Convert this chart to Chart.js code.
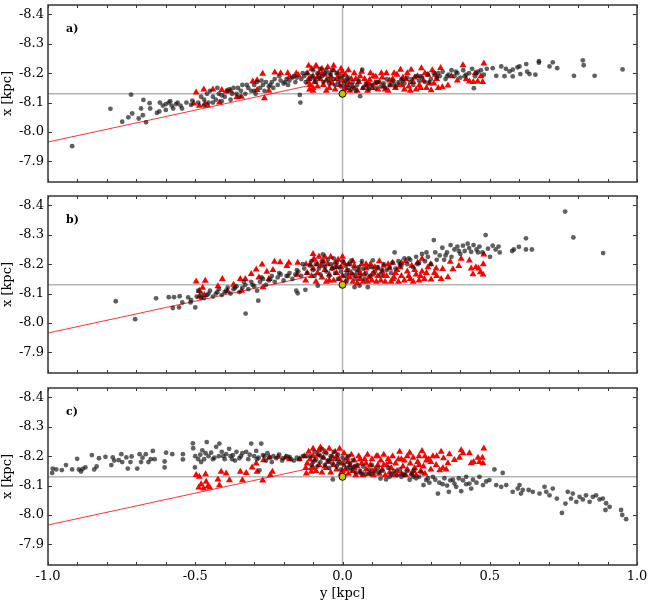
<!DOCTYPE html>
<html lang="en">
<head>
<meta charset="UTF-8">
<title>x vs y [kpc]</title>
<script src="https://cdn.jsdelivr.net/npm/chart.js"></script>
<style>
  body { margin: 0; background: #fff; }
  #wrap { position: relative; width: 648px; height: 605px; }
  canvas { position: absolute; left: 0; }
</style>
</head>
<body>
<div id="wrap">
  <canvas id="panelA" width="648" height="190" style="top:0"></canvas>
  <canvas id="panelB" width="648" height="190" style="top:190px"></canvas>
  <canvas id="panelC" width="648" height="225" style="top:380px"></canvas>
</div>
<script>
// axis settings
const xTicks = [-1.0, -0.5, 0.0, 0.5, 1.0];
const xMinor = [-1.0, -0.9, -0.8, -0.7, -0.6, -0.5, -0.4, -0.3, -0.2, -0.1, 0.0, 0.1, 0.2, 0.3, 0.4, 0.5, 0.6, 0.7, 0.8, 0.9, 1.0];
const yTicks = [-8.4, -8.3, -8.2, -8.1, -8.0, -7.9];
const yRange = [-8.432, -7.83];

// sun position and the red direction line
const sunPos = [0.0, -8.13];
const fitLine = [[-1.0, -7.966], [-0.1, -8.161]];

// panel a
const aBlack = [
  [-0.918,-7.952],[-0.788,-8.079],[-0.748,-8.035],[-0.718,-8.127],[-0.714,-8.063],[-0.727,-8.05],[-0.692,-8.046],
  [-0.684,-8.080],[-0.676,-8.109],[-0.678,-8.057],[-0.667,-8.033],[-0.655,-8.098],[-0.653,-8.08],
  [-0.63,-8.065],[-0.622,-8.07],[-0.62,-8.10],[-0.61,-8.09],[-0.60,-8.095],[-0.60,-8.075],[-0.59,-8.10],[-0.585,-8.105],
  [-0.58,-8.09],[-0.575,-8.08],[-0.565,-8.095],[-0.56,-8.10],[-0.55,-8.09],[-0.545,-8.08],[-0.53,-8.10],[-0.514,-8.092],[-0.51,-8.107],
  [-0.49,-8.10],[-0.48,-8.12],[-0.47,-8.11],[-0.46,-8.13],[-0.455,-8.10],[-0.45,-8.14],[-0.44,-8.12],[-0.43,-8.11],[-0.425,-8.15],
  [-0.42,-8.13],[-0.41,-8.105],[-0.40,-8.12],[-0.39,-8.14],[-0.38,-8.11],[-0.375,-8.13],[-0.37,-8.15],[-0.36,-8.13],[-0.35,-8.12],
  [-0.345,-8.14],[-0.34,-8.16],[-0.33,-8.13],[-0.32,-8.15],[-0.31,-8.14],[-0.30,-8.16],[-0.295,-8.13],[-0.29,-8.17],[-0.28,-8.15],
  [-0.27,-8.16],[-0.265,-8.14],[-0.26,-8.17],[-0.25,-8.155],[-0.24,-8.17],[-0.235,-8.15],[-0.23,-8.18],[-0.22,-8.16],[-0.21,-8.175],
  [-0.20,-8.165],[-0.19,-8.18],[-0.185,-8.16],[-0.18,-8.175],[-0.17,-8.185],[-0.16,-8.17],[-0.155,-8.185],[-0.145,-8.126],[-0.143,-8.10],
  [-0.14,-8.18],[-0.13,-8.19],[-0.125,-8.17],[-0.12,-8.20],[-0.11,-8.18],[-0.105,-8.19],[-0.10,-8.21],[-0.09,-8.17],[-0.085,-8.20],
  [-0.08,-8.185],[-0.075,-8.215],[-0.07,-8.19],[-0.065,-8.17],[-0.06,-8.20],[-0.055,-8.21],[-0.05,-8.18],[-0.045,-8.165],[-0.04,-8.195],
  [-0.035,-8.21],[-0.03,-8.18],[-0.025,-8.16],[-0.02,-8.20],[-0.015,-8.17],[-0.01,-8.185],[-0.005,-8.155],[0.0,-8.19],[0.005,-8.165],
  [0.01,-8.175],[0.015,-8.15],[0.02,-8.185],[0.025,-8.16],[0.03,-8.145],[0.035,-8.17],[0.04,-8.15],[0.045,-8.14],
  [0.05,-8.16],[0.06,-8.122],[0.067,-8.212],[0.07,-8.15],[0.08,-8.165],[0.09,-8.145],[0.10,-8.16],[0.11,-8.15],[0.12,-8.17],
  [0.13,-8.155],[0.14,-8.165],[0.15,-8.18],[0.16,-8.16],[0.17,-8.175],[0.18,-8.155],[0.19,-8.17],[0.20,-8.18],[0.21,-8.165],
  [0.22,-8.185],[0.23,-8.17],[0.24,-8.16],[0.25,-8.19],[0.26,-8.175],[0.27,-8.185],[0.28,-8.17],[0.29,-8.195],[0.30,-8.18],
  [0.31,-8.20],[0.32,-8.185],[0.33,-8.19],[0.34,-8.205],[0.35,-8.18],[0.36,-8.195],[0.37,-8.21],[0.38,-8.19],[0.39,-8.20],
  [0.40,-8.185],[0.41,-8.21],[0.42,-8.195],[0.43,-8.20],[0.44,-8.215],[0.446,-8.149],[0.45,-8.19],[0.46,-8.205],[0.47,-8.21],
  [0.48,-8.195],[0.49,-8.215],[0.51,-8.217],[0.522,-8.191],[0.539,-8.223],[0.55,-8.19],[0.555,-8.215],[0.567,-8.206],[0.578,-8.189],
  [0.578,-8.212],[0.594,-8.22],[0.601,-8.223],[0.604,-8.197],[0.624,-8.231],[0.627,-8.205],[0.635,-8.197],[0.655,-8.195],
  [0.667,-8.241],[0.667,-8.236],[0.703,-8.223],[0.714,-8.237],[0.729,-8.217],[0.786,-8.191],[0.816,-8.244],[0.819,-8.227],
  [0.856,-8.191],[0.951,-8.213],
  [-0.47,-8.09],[-0.44,-8.1],[-0.41,-8.125],[-0.385,-8.145],[-0.355,-8.15],[-0.325,-8.16],[-0.3,-8.14],[-0.275,-8.175],
  [-0.245,-8.16],[-0.215,-8.19],[-0.195,-8.17],[-0.165,-8.19],[-0.135,-8.2],[-0.095,-8.18],[-0.045,-8.2],[0.015,-8.18],
  [0.055,-8.175],[0.085,-8.155],[0.115,-8.17],[0.145,-8.15],[0.175,-8.165],[0.205,-8.175],[0.235,-8.18],[0.265,-8.19],
  [0.295,-8.17],[0.325,-8.2],[0.355,-8.19],[0.385,-8.205],[0.415,-8.19],[0.455,-8.2]
];
const aRed = [
  [-0.497,-8.134],[-0.505,-8.097],[-0.486,-8.089],[-0.467,-8.097],[-0.458,-8.09],[-0.471,-8.145],[-0.44,-8.145],[-0.41,-8.143],
  [-0.418,-8.10],[-0.395,-8.138],[-0.38,-8.14],[-0.359,-8.118],[-0.343,-8.12],[-0.305,-8.172],[-0.29,-8.143],[-0.29,-8.176],
  [-0.271,-8.198],[-0.265,-8.115],[-0.25,-8.14],[-0.23,-8.202],[-0.21,-8.20],[-0.186,-8.20],[-0.18,-8.188],[-0.157,-8.199],
  [-0.15,-8.193],[-0.112,-8.145],[-0.10,-8.14],[-0.116,-8.168],[-0.089,-8.223],
  [-0.12,-8.20],[-0.115,-8.18],[-0.11,-8.16],[-0.105,-8.215],[-0.10,-8.19],[-0.095,-8.17],[-0.09,-8.225],[-0.085,-8.155],
  [-0.08,-8.20],[-0.075,-8.18],[-0.07,-8.215],[-0.065,-8.16],[-0.06,-8.195],[-0.055,-8.175],[-0.05,-8.22],[-0.045,-8.15],
  [-0.04,-8.19],[-0.035,-8.165],[-0.03,-8.21],[-0.025,-8.145],[-0.02,-8.18],[-0.015,-8.2],[-0.01,-8.16],[-0.005,-8.215],
  [0.0,-8.175],[0.005,-8.145],[0.01,-8.195],[0.015,-8.16],[0.02,-8.21],[0.025,-8.14],[0.03,-8.18],
  [0.035,-8.155],[0.04,-8.2],[0.05,-8.14],[0.055,-8.17],[0.06,-8.19],[0.07,-8.15],[0.075,-8.18],[0.085,-8.14],[0.09,-8.165],
  [0.092,-8.178],[0.10,-8.15],[0.105,-8.19],[0.113,-8.188],[0.12,-8.145],[0.125,-8.17],[0.132,-8.20],[0.14,-8.155],[0.149,-8.20],
  [0.155,-8.14],[0.163,-8.159],[0.17,-8.18],[0.18,-8.15],[0.185,-8.195],[0.197,-8.212],[0.2,-8.16],[0.21,-8.145],[0.215,-8.18],
  [0.225,-8.155],[0.233,-8.212],[0.24,-8.17],[0.25,-8.145],[0.255,-8.19],[0.261,-8.159],[0.268,-8.217],[0.275,-8.175],
  [0.285,-8.15],[0.29,-8.195],[0.301,-8.142],[0.305,-8.21],[0.31,-8.165],[0.32,-8.18],[0.333,-8.218],[0.339,-8.152],
  [0.358,-8.158],[0.37,-8.19],[0.39,-8.175],[0.409,-8.227],[0.42,-8.18],[0.431,-8.172],[0.444,-8.17],[0.459,-8.172],
  [0.476,-8.17],[0.48,-8.233],[0.47,-8.19],[0.45,-8.2],
  [-0.115,-8.225],[-0.1,-8.15],[-0.085,-8.185],[-0.07,-8.2],[-0.055,-8.14],[-0.04,-8.175],[-0.03,-8.225],[-0.015,-8.185],
  [0.0,-8.205],[0.01,-8.15],[0.02,-8.17],[0.045,-8.18],[0.065,-8.205],[0.08,-8.16],[0.095,-8.2],[0.11,-8.165],[0.135,-8.185],
  [0.145,-8.145],[0.16,-8.175],[0.175,-8.2],[0.19,-8.16],[0.205,-8.185],[0.22,-8.2],[0.23,-8.14],[0.245,-8.185],[0.265,-8.15],
  [0.28,-8.2],[0.295,-8.165],[0.315,-8.195],[0.325,-8.15]
];

// panel b
const bBlack = [
  [-0.770,-8.074],[-0.704,-8.013],[-0.633,-8.084],[-0.590,-8.088],[-0.576,-8.051],[-0.572,-8.088],[-0.553,-8.091],[-0.555,-8.053],
  [-0.544,-8.070],[-0.524,-8.087],[-0.516,-8.07],[-0.514,-8.078],[-0.50,-8.053],
  [-0.495,-8.09],[-0.49,-8.11],[-0.48,-8.10],[-0.47,-8.085],[-0.46,-8.095],[-0.45,-8.11],[-0.44,-8.09],[-0.43,-8.10],[-0.42,-8.115],
  [-0.41,-8.095],[-0.40,-8.105],[-0.39,-8.12],[-0.38,-8.10],[-0.37,-8.115],[-0.36,-8.125],[-0.35,-8.105],[-0.34,-8.12],[-0.33,-8.13],
  [-0.329,-8.032],[-0.32,-8.115],[-0.31,-8.14],[-0.30,-8.125],[-0.29,-8.11],[-0.286,-8.076],[-0.28,-8.14],[-0.27,-8.15],[-0.26,-8.13],
  [-0.25,-8.145],[-0.24,-8.16],[-0.23,-8.14],[-0.22,-8.155],[-0.21,-8.165],[-0.20,-8.145],[-0.19,-8.16],[-0.18,-8.17],[-0.17,-8.15],
  [-0.16,-8.165],[-0.157,-8.11],[-0.152,-8.101],[-0.126,-8.113],[-0.084,-8.127],
  [-0.15,-8.175],[-0.14,-8.16],[-0.13,-8.185],[-0.12,-8.17],[-0.11,-8.195],[-0.10,-8.18],[-0.095,-8.16],[-0.09,-8.2],[-0.08,-8.185],
  [-0.075,-8.165],[-0.07,-8.21],[-0.067,-8.233],[-0.06,-8.19],[-0.055,-8.175],[-0.05,-8.215],[-0.045,-8.16],[-0.04,-8.2],
  [-0.035,-8.185],[-0.03,-8.22],[-0.025,-8.17],[-0.02,-8.205],[-0.015,-8.15],[-0.01,-8.19],[-0.005,-8.175],[0.0,-8.21],[0.005,-8.16],
  [0.01,-8.195],[0.015,-8.145],[0.02,-8.18],[0.025,-8.2],[0.03,-8.213],[0.035,-8.165],[0.04,-8.185],[0.041,-8.122],[0.045,-8.15],
  [0.05,-8.175],[0.058,-8.127],[0.06,-8.16],[0.066,-8.21],[0.07,-8.185],[0.075,-8.15],[0.08,-8.17],[0.086,-8.122],[0.09,-8.19],
  [0.095,-8.16],[0.103,-8.213],[0.11,-8.175],[0.12,-8.19],[0.13,-8.165],[0.14,-8.2],[0.15,-8.18],[0.16,-8.19],[0.17,-8.205],
  [0.177,-8.24],[0.18,-8.185],[0.19,-8.21],[0.2,-8.195],[0.21,-8.22],[0.22,-8.2],[0.23,-8.215],[0.24,-8.19],[0.25,-8.225],
  [0.26,-8.205],[0.27,-8.235],[0.28,-8.21],[0.29,-8.225],[0.3,-8.2],[0.31,-8.282],[0.315,-8.24],[0.32,-8.215],[0.33,-8.23],
  [0.339,-8.256],[0.345,-8.215],[0.355,-8.24],[0.367,-8.265],[0.37,-8.225],[0.38,-8.25],[0.39,-8.26],[0.4,-8.235],[0.409,-8.263],
  [0.415,-8.245],[0.425,-8.27],[0.437,-8.242],[0.445,-8.265],[0.455,-8.25],[0.465,-8.26],[0.475,-8.24],[0.486,-8.299],
  [0.494,-8.253],[0.501,-8.225],[0.51,-8.263],[0.52,-8.25],[0.53,-8.26],[0.534,-8.24],[0.576,-8.245],[0.582,-8.25],[0.599,-8.259],
  [0.623,-8.288],[0.623,-8.25],[0.643,-8.25],[0.756,-8.379],[0.784,-8.291],[0.885,-8.238],
  [-0.48,-8.085],[-0.455,-8.1],[-0.425,-8.105],[-0.395,-8.11],[-0.365,-8.12],[-0.335,-8.14],[-0.305,-8.13],[-0.275,-8.155],
  [-0.245,-8.15],[-0.215,-8.17],[-0.185,-8.16],[-0.155,-8.18],[-0.135,-8.2],[-0.105,-8.21],[-0.065,-8.2],[-0.025,-8.19],
  [0.015,-8.17],[0.055,-8.19],[0.1,-8.19],[0.135,-8.18],[0.165,-8.17],[0.195,-8.2],[0.225,-8.22],[0.255,-8.2],[0.285,-8.24],
  [0.35,-8.23],[0.395,-8.245],[0.43,-8.255],[0.46,-8.24]
];
const bRed = [
  [-0.497,-8.141],[-0.486,-8.11],[-0.486,-8.09],[-0.466,-8.144],[-0.469,-8.095],[-0.475,-8.12],[-0.423,-8.125],[-0.408,-8.15],
  [-0.39,-8.108],[-0.37,-8.13],[-0.347,-8.15],[-0.33,-8.15],[-0.343,-8.11],[-0.31,-8.167],[-0.293,-8.182],[-0.284,-8.155],
  [-0.273,-8.199],[-0.27,-8.122],[-0.257,-8.174],[-0.25,-8.15],[-0.231,-8.208],[-0.212,-8.207],[-0.236,-8.18],[-0.189,-8.194],
  [-0.182,-8.205],[-0.152,-8.205],[-0.154,-8.164],[-0.124,-8.2],[-0.12,-8.17],[-0.125,-8.145],[-0.098,-8.217],[-0.08,-8.225],
  [-0.11,-8.2],[-0.105,-8.16],[-0.1,-8.185],[-0.095,-8.215],[-0.09,-8.14],[-0.085,-8.17],[-0.075,-8.195],[-0.07,-8.155],
  [-0.065,-8.21],[-0.06,-8.18],[-0.055,-8.14],[-0.05,-8.2],[-0.045,-8.165],[-0.04,-8.225],[-0.035,-8.185],[-0.03,-8.145],
  [-0.025,-8.205],[-0.02,-8.17],[-0.015,-8.215],[-0.01,-8.15],[-0.005,-8.19],[0.0,-8.16],[0.005,-8.205],[0.01,-8.14],[0.015,-8.18],
  [0.02,-8.2],[0.025,-8.155],[0.03,-8.17],[0.035,-8.14],[0.04,-8.195],[0.045,-8.16],[0.05,-8.135],[0.055,-8.18],[0.06,-8.15],
  [0.065,-8.2],[0.07,-8.14],[0.075,-8.165],[0.08,-8.185],[0.085,-8.14],[0.09,-8.155],[0.095,-8.2],[0.1,-8.145],[0.105,-8.17],
  [0.11,-8.19],[0.115,-8.14],[0.12,-8.16],[0.125,-8.21],[0.13,-8.145],[0.135,-8.175],[0.14,-8.195],[0.145,-8.14],[0.15,-8.16],
  [0.16,-8.185],[0.165,-8.14],[0.17,-8.205],[0.175,-8.155],[0.18,-8.17],[0.19,-8.14],[0.195,-8.19],[0.2,-8.16],[0.21,-8.145],
  [0.215,-8.21],[0.22,-8.175],[0.23,-8.15],[0.235,-8.195],[0.24,-8.14],[0.25,-8.165],[0.255,-8.205],[0.26,-8.145],[0.27,-8.219],
  [0.27,-8.175],[0.278,-8.15],[0.29,-8.19],[0.301,-8.148],[0.312,-8.17],[0.318,-8.185],[0.335,-8.15],[0.34,-8.184],[0.358,-8.156],
  [0.366,-8.208],[0.375,-8.183],[0.395,-8.194],[0.403,-8.219],[0.431,-8.213],[0.437,-8.185],[0.443,-8.166],[0.453,-8.19],
  [0.462,-8.185],[0.468,-8.173],[0.478,-8.2],[0.48,-8.233],[0.477,-8.165],
  [-0.1,-8.235],[-0.085,-8.2],[-0.06,-8.225],[-0.045,-8.145],[-0.02,-8.19],[0.0,-8.225],[0.02,-8.16],[0.035,-8.21],[0.06,-8.17],
  [0.08,-8.2],[0.1,-8.165],[0.12,-8.185],[0.14,-8.16],[0.155,-8.2],[0.17,-8.15],[0.185,-8.18],[0.2,-8.205],[0.225,-8.16],
  [0.245,-8.18],[0.265,-8.16],[0.285,-8.17],[0.3,-8.2],[0.32,-8.16]
];

// panel c
const cBlack = [
  [-0.986,-8.143],[-0.984,-8.158],[-0.972,-8.155],[-0.953,-8.153],[-0.939,-8.17],[-0.918,-8.155],[-0.901,-8.191],[-0.895,-8.155],
  [-0.888,-8.148],[-0.882,-8.157],[-0.873,-8.162],[-0.851,-8.204],[-0.843,-8.155],[-0.835,-8.165],[-0.827,-8.193],[-0.805,-8.198],
  [-0.785,-8.17],[-0.78,-8.196],[-0.775,-8.185],[-0.76,-8.187],[-0.751,-8.207],[-0.748,-8.18],[-0.734,-8.196],[-0.729,-8.158],
  [-0.72,-8.18],[-0.716,-8.199],[-0.697,-8.158],[-0.689,-8.207],[-0.684,-8.18],[-0.679,-8.195],[-0.668,-8.207],[-0.659,-8.18],
  [-0.651,-8.19],[-0.644,-8.218],[-0.638,-8.19],[-0.604,-8.182],[-0.604,-8.162],[-0.599,-8.212],[-0.578,-8.207],[-0.542,-8.189],
  [-0.542,-8.207],
  [-0.508,-8.244],[-0.507,-8.227],[-0.501,-8.162],[-0.49,-8.19],[-0.48,-8.18],[-0.483,-8.205],[-0.476,-8.22],[-0.47,-8.19],
  [-0.461,-8.248],[-0.455,-8.2],[-0.446,-8.212],[-0.44,-8.19],[-0.429,-8.232],[-0.42,-8.2],[-0.418,-8.243],[-0.41,-8.215],
  [-0.4,-8.19],[-0.395,-8.207],[-0.385,-8.225],[-0.38,-8.2],[-0.372,-8.204],[-0.365,-8.185],[-0.36,-8.215],[-0.35,-8.193],
  [-0.34,-8.21],[-0.327,-8.215],[-0.32,-8.19],[-0.31,-8.243],[-0.3,-8.2],[-0.293,-8.218],[-0.285,-8.195],[-0.282,-8.152],
  [-0.276,-8.243],[-0.27,-8.204],[-0.26,-8.185],[-0.255,-8.21],[-0.248,-8.196],[-0.24,-8.18],[-0.225,-8.193],[-0.215,-8.205],
  [-0.202,-8.193],[-0.19,-8.2],[-0.18,-8.198],[-0.165,-8.185],[-0.146,-8.19],[-0.135,-8.2],[-0.123,-8.2],
  [-0.11,-8.2],[-0.1,-8.18],[-0.095,-8.215],[-0.09,-8.19],[-0.085,-8.165],[-0.08,-8.205],[-0.075,-8.18],[-0.07,-8.225],
  [-0.065,-8.195],[-0.06,-8.17],[-0.055,-8.21],[-0.05,-8.185],[-0.045,-8.16],[-0.04,-8.2],[-0.035,-8.175],[-0.03,-8.215],
  [-0.025,-8.19],[-0.02,-8.165],[-0.015,-8.205],[-0.01,-8.18],[-0.005,-8.155],[0.0,-8.195],[0.005,-8.17],[0.01,-8.185],
  [0.015,-8.16],[0.02,-8.2],[0.025,-8.175],[0.03,-8.155],[0.035,-8.187],[0.04,-8.165],[0.045,-8.145],[0.05,-8.17],[-0.033,-8.121],
  [0.06,-8.15],[0.07,-8.165],[0.08,-8.14],[0.09,-8.155],[0.1,-8.17],[0.11,-8.145],[0.12,-8.16],[0.129,-8.124],[0.135,-8.15],
  [0.148,-8.121],[0.155,-8.16],[0.165,-8.14],[0.175,-8.15],[0.185,-8.135],[0.195,-8.155],[0.205,-8.14],[0.211,-8.136],[0.22,-8.15],
  [0.228,-8.12],[0.235,-8.14],[0.244,-8.153],[0.25,-8.125],[0.26,-8.13],[0.268,-8.145],[0.275,-8.102],[0.284,-8.119],[0.295,-8.11],
  [0.307,-8.13],[0.315,-8.12],[0.324,-8.073],[0.329,-8.11],[0.346,-8.125],[0.355,-8.1],[0.361,-8.079],[0.366,-8.118],[0.38,-8.107],
  [0.386,-8.096],[0.395,-8.125],[0.403,-8.081],[0.409,-8.118],[0.42,-8.13],[0.431,-8.107],[0.437,-8.09],[0.443,-8.12],[0.465,-8.13],
  [0.477,-8.102],[0.488,-8.114],[0.499,-8.119],[0.516,-8.155],[0.522,-8.102],[0.544,-8.143],[0.539,-8.096],[0.556,-8.102],
  [0.578,-8.079],[0.595,-8.09],[0.601,-8.102],[0.606,-8.073],[0.612,-8.085],[0.632,-8.085],[0.646,-8.079],[0.669,-8.073],
  [0.686,-8.096],[0.692,-8.079],[0.703,-8.067],[0.714,-8.09],[0.728,-8.056],[0.745,-8.007],[0.757,-8.039],[0.765,-8.079],
  [0.776,-8.056],[0.782,-8.073],[0.794,-8.045],[0.805,-8.062],[0.816,-8.053],[0.827,-8.067],[0.839,-8.045],[0.85,-8.062],
  [0.861,-8.067],[0.873,-8.053],[0.884,-8.056],[0.893,-8.017],[0.895,-8.04],[0.907,-8.028],[0.946,-8.017],[0.95,-8.0],[0.963,-7.986],
  [-0.5,-8.2],[-0.465,-8.21],[-0.435,-8.195],[-0.405,-8.2],[-0.375,-8.19],[-0.345,-8.2],[-0.315,-8.205],[-0.29,-8.19],
  [-0.265,-8.2],[-0.235,-8.2],[-0.205,-8.185],[-0.175,-8.19],[-0.155,-8.195],[-0.105,-8.17],[-0.075,-8.2],[-0.045,-8.185],
  [-0.015,-8.175],[0.025,-8.16],[0.065,-8.14],[0.095,-8.14],[0.125,-8.145],[0.16,-8.13],[0.2,-8.13],[0.24,-8.13],[0.29,-8.125],
  [0.34,-8.105],[0.375,-8.12],[0.42,-8.105],[0.455,-8.11]
];
const cRed = [
  [-0.497,-8.136],[-0.486,-8.13],[-0.488,-8.094],[-0.472,-8.09],[-0.465,-8.139],[-0.463,-8.113],[-0.457,-8.098],[-0.451,-8.094],
  [-0.48,-8.105],[-0.423,-8.121],[-0.412,-8.147],[-0.418,-8.101],[-0.395,-8.141],[-0.384,-8.118],[-0.347,-8.147],[-0.34,-8.118],
  [-0.327,-8.143],[-0.307,-8.162],[-0.293,-8.175],[-0.29,-8.147],[-0.271,-8.117],[-0.268,-8.186],[-0.245,-8.136],[-0.238,-8.147],
  [-0.248,-8.196],[-0.219,-8.198],[-0.193,-8.196],[-0.18,-8.19],[-0.146,-8.19],[-0.123,-8.141],[-0.106,-8.147],[-0.1,-8.162],
  [-0.13,-8.2],[-0.12,-8.175],[-0.115,-8.215],[-0.11,-8.19],[-0.105,-8.16],[-0.1,-8.225],[-0.095,-8.185],[-0.09,-8.15],
  [-0.085,-8.205],[-0.08,-8.17],[-0.075,-8.23],[-0.07,-8.145],[-0.065,-8.195],[-0.06,-8.215],[-0.055,-8.16],[-0.05,-8.18],
  [-0.045,-8.225],[-0.04,-8.145],[-0.035,-8.2],[-0.03,-8.17],[-0.025,-8.215],[-0.02,-8.155],[-0.015,-8.19],[-0.01,-8.225],
  [-0.005,-8.14],[0.0,-8.175],[0.005,-8.21],[0.01,-8.155],[0.015,-8.195],[0.02,-8.14],[0.025,-8.17],[0.03,-8.205],
  [0.035,-8.15],[0.04,-8.185],[0.045,-8.135],[0.05,-8.165],[0.055,-8.2],[0.06,-8.145],[0.065,-8.175],[0.07,-8.135],[0.075,-8.19],
  [0.08,-8.155],[0.085,-8.205],[0.09,-8.14],[0.095,-8.17],[0.1,-8.19],[0.105,-8.135],[0.11,-8.155],[0.115,-8.2],[0.12,-8.17],
  [0.125,-8.14],[0.13,-8.185],[0.135,-8.155],[0.14,-8.205],[0.145,-8.135],[0.15,-8.17],[0.155,-8.19],[0.16,-8.145],[0.165,-8.16],
  [0.17,-8.2],[0.175,-8.135],[0.18,-8.175],[0.185,-8.15],[0.19,-8.19],[0.194,-8.215],[0.2,-8.14],[0.205,-8.165],[0.21,-8.185],
  [0.215,-8.135],[0.22,-8.155],[0.228,-8.212],[0.23,-8.175],[0.235,-8.14],[0.24,-8.195],[0.245,-8.16],[0.25,-8.135],[0.255,-8.18],
  [0.26,-8.2],[0.265,-8.15],[0.27,-8.218],[0.275,-8.165],[0.28,-8.14],[0.285,-8.185],[0.293,-8.19],[0.3,-8.155],[0.307,-8.2],
  [0.318,-8.17],[0.33,-8.152],[0.335,-8.215],[0.343,-8.193],[0.341,-8.16],[0.352,-8.155],[0.358,-8.176],[0.363,-8.207],
  [0.38,-8.187],[0.397,-8.195],[0.403,-8.22],[0.409,-8.21],[0.431,-8.21],[0.437,-8.176],[0.445,-8.18],[0.46,-8.195],[0.465,-8.18],
  [0.477,-8.176],[0.475,-8.195],[0.48,-8.226],
  [-0.125,-8.16],[-0.1,-8.2],[-0.08,-8.22],[-0.06,-8.165],[-0.04,-8.19],[-0.02,-8.2],[0.0,-8.15],[0.02,-8.18],[0.04,-8.16],
  [0.06,-8.19],[0.08,-8.175],[0.1,-8.15],[0.12,-8.2],[0.14,-8.17],[0.16,-8.18],[0.18,-8.14],[0.2,-8.19],[0.22,-8.2],[0.24,-8.15],
  [0.26,-8.17],[0.28,-8.2],[0.3,-8.18],[0.32,-8.2]
];

const FONT = 'DejaVu Serif';
const toPts = arr => arr.map(p => ({ x: p[0], y: p[1] }));

// frame, inward ticks and the panel letter
const framePlugin = {
    id: 'frame',
    afterDraw(chart, args, opts) {
        const { ctx, chartArea: a, scales } = chart;
        const xs = scales.x, ys = scales.y;
        ctx.save();
        ctx.strokeStyle = '#333';
        ctx.lineWidth = 1;
        ctx.beginPath();
        xMinor.forEach(v => {
            const px = Math.round(xs.getPixelForValue(v)) + 0.5;
            ctx.moveTo(px, a.bottom); ctx.lineTo(px, a.bottom - 3);
            ctx.moveTo(px, a.top); ctx.lineTo(px, a.top + 3);
        });
        yTicks.forEach(v => {
            const py = Math.round(ys.getPixelForValue(v)) + 0.5;
            ctx.moveTo(a.left, py); ctx.lineTo(a.left + 4, py);
            ctx.moveTo(a.right, py); ctx.lineTo(a.right - 4, py);
        });
        ctx.stroke();
        ctx.lineWidth = 1.5;
        ctx.strokeRect(a.left, a.top, a.right - a.left, a.bottom - a.top);
        ctx.fillStyle = '#000';
        ctx.font = 'bold 11px "' + FONT + '"';
        ctx.textBaseline = 'middle';
        ctx.fillText(opts.label, a.left + 18, a.top + 24);
        ctx.restore();
    }
};

function makePanel(id, label, black, red, pad, showX) {
    new Chart(document.getElementById(id), {
        type: 'scatter',
        data: {
            datasets: [
                {
                    data: toPts([sunPos]), order: 0,
                    pointRadius: 3.5, backgroundColor: '#c9c400', borderColor: '#000', borderWidth: 1
                },
                {
                    data: toPts(black), order: 1,
                    pointRadius: 2.4, backgroundColor: 'rgba(20,20,20,0.68)', borderWidth: 0
                },
                {
                    data: toPts(red), order: 2, pointStyle: 'triangle',
                    pointRadius: 4, backgroundColor: 'rgba(255,0,0,1)', borderWidth: 0
                },
                {
                    data: toPts(fitLine), order: 3, showLine: true,
                    pointRadius: 0, borderColor: 'rgba(255,0,0,0.8)', borderWidth: 1
                },
                {
                    data: toPts([[-1, sunPos[1]], [1, sunPos[1]]]), order: 4, showLine: true,
                    pointRadius: 0, borderColor: '#b4b4b4', borderWidth: 1.5
                },
                {
                    data: toPts([[sunPos[0], yRange[0]], [sunPos[0], yRange[1]]]), order: 4, showLine: true,
                    pointRadius: 0, borderColor: '#b4b4b4', borderWidth: 1.5
                }
            ]
        },
        options: {
            responsive: false,
            animation: false,
            events: [],
            layout: { padding: pad },
            plugins: {
                legend: { display: false },
                tooltip: { enabled: false },
                frame: { label: label }
            },
            scales: {
                x: {
                    type: 'linear', min: -1, max: 1,
                    display: showX,
                    grid: { display: false, drawTicks: false },
                    border: { display: false },
                    afterBuildTicks: s => { s.ticks = xTicks.map(v => ({ value: v })); },
                    afterFit: s => {
                        if (showX) s.height = 40;
                        s.paddingLeft = 0; s.paddingRight = 0;
                    },
                    ticks: {
                        padding: 4, color: '#000',
                        font: { family: FONT, size: 13 },
                        callback: v => v.toFixed(1)
                    },
                    title: {
                        display: true, text: 'y [kpc]', color: '#000',
                        font: { family: FONT, size: 13 },
                        padding: { top: 0, bottom: 4 }
                    }
                },
                y: {
                    type: 'linear', reverse: true, min: yRange[0], max: yRange[1],
                    grid: { display: false, drawTicks: false },
                    border: { display: false },
                    afterBuildTicks: s => { s.ticks = yTicks.map(v => ({ value: v })); },
                    afterFit: s => {
                        s.width = 48;
                        s.paddingTop = 0; s.paddingBottom = 0;
                    },
                    ticks: {
                        padding: 4, color: '#000',
                        font: { family: FONT, size: 13 },
                        callback: v => v.toFixed(1)
                    },
                    title: {
                        display: true, text: 'x [kpc]', color: '#000',
                        font: { family: FONT, size: 13 },
                        padding: { top: 0, bottom: 0 }
                    }
                }
            }
        },
        plugins: [framePlugin]
    });
}

makePanel('panelA', 'a)', aBlack, aRed, { top: 5, right: 11, bottom: 8, left: 0 }, false);
makePanel('panelB', 'b)', bBlack, bRed, { top: 6, right: 11, bottom: 7, left: 0 }, false);
makePanel('panelC', 'c)', cBlack, cRed, { top: 8, right: 11, bottom: 0, left: 0 }, true);
</script>
</body>
</html>
